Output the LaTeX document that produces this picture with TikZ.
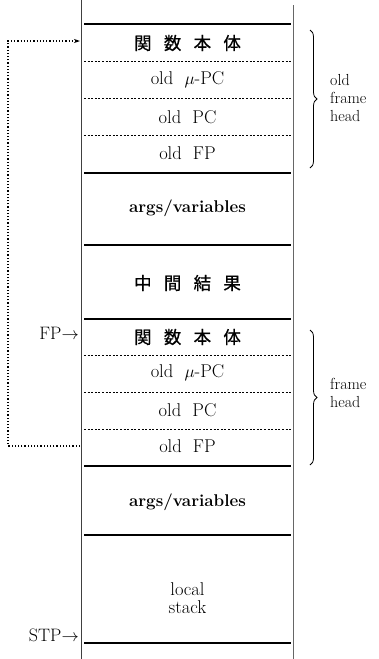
\documentclass[tikz,border=0pt]{standalone}
\usepackage{fontspec}
\newfontfamily\cjk[FakeBold=0.8]{Noto Sans CJK JP}
\usetikzlibrary{decorations.pathreplacing,arrows.meta}
\begin{document}
\begin{tikzpicture}[x=1pt,y=-1pt,
  rowtext/.style={font=\fontsize{18.5}{20}\selectfont, align=center, inner sep=0pt},
  boldtext/.style={font=\fontsize{17}{19}\selectfont\bfseries, align=center, inner sep=0pt},
  jtext/.style={font=\fontsize{17.5}{19}\selectfont\cjk, inner sep=0pt},
  sideline/.style={line width=0.9pt, black!75},
  solidrule/.style={line width=1.1pt},
  dotrule/.style={line width=0.9pt, dash pattern=on 2pt off 1.6pt},
  ptrlabel/.style={font=\fontsize{18}{20}\selectfont, anchor=east, inner sep=0pt},
  bracelabel/.style={font=\fontsize{16}{18}\selectfont, align=left, anchor=west, inner sep=0pt},
  bracedeco/.style={decorate, decoration={brace, amplitude=7pt}, line width=0.8pt},
  linkline/.style={line width=1.2pt, dotted}
]
\useasboundingbox (0,0) rectangle (378,659);
% columns
\draw[sideline] (81,0) -- (81,659);
\draw[sideline, line width=0.6pt, black!60] (293,5) -- (293,659);
% rules
\foreach \y in {24,173,245,319,466,535,643} \draw[solidrule] (84,\y) -- (291,\y);
\foreach \y in {61,98,135,355,392,429} \draw[dotrule] (84,\y) -- (291,\y);
% texts
\node[jtext] (r1) at (187.5,43) {関\hspace{0.7em}数\hspace{0.7em}本\hspace{0.7em}体};
\node[rowtext] (r2) at (187.5,80) {old \ $\mu$-PC};
\node[rowtext] (r3) at (187.5,117) {old \ PC};
\node[rowtext] (r4) at (187.5,153) {old \ FP};
\node[boldtext] (r5) at (187.5,208) {args/variables};
\node[jtext] (r6) at (187.5,283) {中\hspace{0.7em}間\hspace{0.7em}結\hspace{0.7em}果};
\node[jtext] (r7) at (187.5,337) {関\hspace{0.7em}数\hspace{0.7em}本\hspace{0.7em}体};
\node[rowtext] (r8) at (187.5,373) {old \ $\mu$-PC};
\node[rowtext] (r9) at (187.5,410) {old \ PC};
\node[rowtext] (r10) at (187.5,446) {old \ FP};
\node[boldtext] (r11) at (187.5,502) {args/variables};
\node[rowtext] (r12) at (187.5,598) {local\\[-2pt]stack};
% pointers
\node[ptrlabel] (fp) at (79,333) {FP$\rightarrow$};
\node[ptrlabel] (stp) at (79,635) {STP$\rightarrow$};
% braces
\draw[bracedeco] (310,30) -- (310,168);
\node[bracelabel] (l1) at (330,98) {old\\frame\\head};
\draw[bracedeco] (310,330) -- (310,465);
\node[bracelabel] (l2) at (330,393) {frame\\head};
% link
\coordinate (ls) at (80,446);
\coordinate (le) at (80,41);
\draw[linkline, -{Stealth[length=6pt,width=4pt]}] (ls) -- (8,446) -- (8,41) -- (le);
\end{tikzpicture}
\end{document}
